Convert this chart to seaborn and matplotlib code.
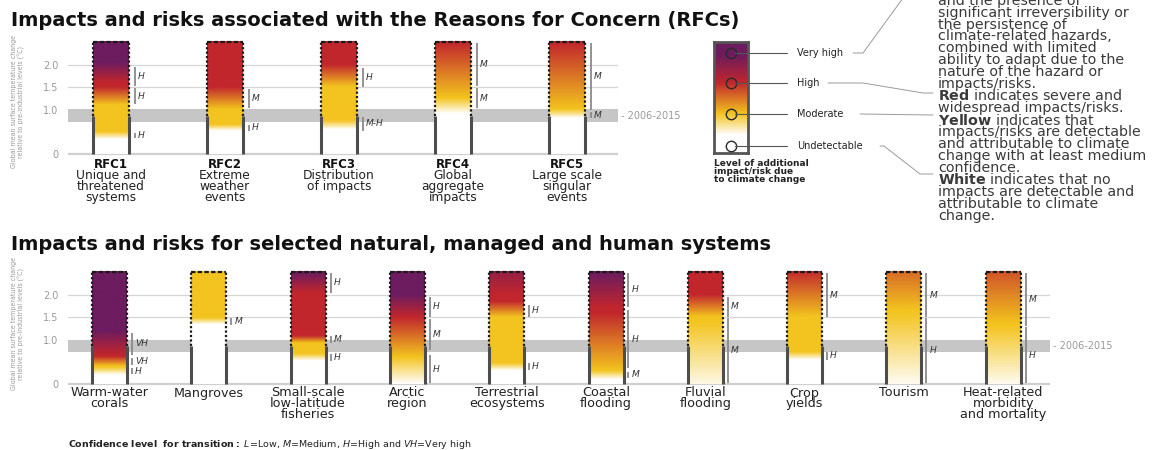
import numpy as np
import matplotlib
matplotlib.use("Agg")
import matplotlib.pyplot as plt
from matplotlib.lines import Line2D
from matplotlib.transforms import offset_copy, blended_transform_factory
import seaborn as sns

# ---------------- data ----------------
level_colors = ["#FFFFFF", "#F3C41F", "#C1262D", "#6C1C5F"]   # undetectable, moderate, high, very high
legend_labels = ["Undetectable", "Moderate", "High", "Very high"]
legend_circle_pos = [0.063, 0.35, 0.63, 0.90]
legend_stop_pos = [0.0, 0.16, 0.35, 0.63, 0.88, 1.0]
legend_stop_level = [0, 0, 1, 2, 3, 3]

present_band = (0.73, 1.0)        # 2006-2015 band (°C)
present_day = 0.85                # end of observed (solid) part of embers
ember_top = 2.52
y_ticks = [0, 1.0, 1.5, 2.0]
y_tick_labels = ["0", "1.0", "1.5", "2.0"]

rfc_codes = ["RFC1", "RFC2", "RFC3", "RFC4", "RFC5"]
rfc_desc = ["Unique and\nthreatened\nsystems", "Extreme\nweather\nevents",
            "Distribution\nof impacts", "Global\naggregate\nimpacts",
            "Large scale\nsingular\nevents"]
# each transition raises the risk level by one: (start °C, end °C)
rfc_transitions = [
    [(0.33, 0.5), (1.1, 1.5), (1.6, 2.05)],
    [(0.52, 0.66), (1.0, 1.5)],
    [(0.55, 0.75), (1.5, 2.0)],
    [(0.9, 1.25), (1.25, 2.5)],
    [(0.8, 1.0), (1.0, 2.5)],
]
rfc_confidence = [
    [(0.35, 0.48, "H"), (1.12, 1.48, "H"), (1.53, 1.95, "H")],
    [(0.52, 0.65, "H"), (1.03, 1.46, "M")],
    [(0.52, 0.83, "M-H"), (1.5, 1.94, "H")],
    [(1.03, 1.48, "M"), (1.53, 2.5, "M")],
    [(0.8, 0.94, "M"), (1.0, 2.5, "M")],
]

sys_names = ["Warm-water\ncorals", "Mangroves", "Small-scale\nlow-latitude\nfisheries",
             "Arctic\nregion", "Terrestrial\necosystems", "Coastal\nflooding",
             "Fluvial\nflooding", "Crop\nyields", "Tourism",
             "Heat-related\nmorbidity\nand mortality"]
sys_transitions = [
    [(0.2, 0.38), (0.4, 0.62), (0.65, 1.2)],
    [(1.33, 1.48)],
    [(0.52, 0.68), (0.92, 1.08), (2.04, 2.5)],
    [(0.0, 0.6), (0.6, 1.5), (1.5, 2.0)],
    [(0.3, 0.47), (1.5, 1.85), (2.0, 3.0)],
    [(0.1, 0.3), (0.3, 1.6), (1.7, 2.5)],
    [(-0.2, 1.4), (1.5, 2.0)],
    [(0.54, 0.72), (1.5, 2.55)],
    [(-0.1, 1.6), (1.65, 3.2)],
    [(-0.1, 1.3), (1.35, 3.0)],
]
sys_confidence = [
    [(0.22, 0.36, "H"), (0.43, 0.58, "VH"), (0.65, 1.15, "VH")],
    [(1.33, 1.48, "M")],
    [(0.52, 0.67, "H"), (0.92, 1.07, "M"), (2.04, 2.5, "H")],
    [(0.02, 0.65, "H"), (0.76, 1.46, "M"), (1.51, 1.96, "H")],
    [(0.31, 0.47, "H"), (1.51, 1.78, "H")],
    [(0.13, 0.28, "M"), (0.36, 1.66, "H"), (1.74, 2.49, "H")],
    [(0.02, 1.48, "M"), (1.51, 1.96, "M")],
    [(0.54, 0.73, "H"), (1.51, 2.49, "M")],
    [(0.02, 1.48, "H"), (1.51, 2.49, "M")],
    [(0.02, 1.28, "H"), (1.3, 2.49, "M")],
]

right_text = [
    "and the presence of",
    "significant irreversibility or",
    "the persistence of",
    "climate-related hazards,",
    "combined with limited",
    "ability to adapt due to the",
    "nature of the hazard or",
    "impacts/risks.",
    r"$\mathbf{Red}$ indicates severe and",
    "widespread impacts/risks.",
    r"$\mathbf{Yellow}$ indicates that",
    "impacts/risks are detectable",
    "and attributable to climate",
    "change with at least medium",
    "confidence.",
    r"$\mathbf{White}$ indicates that no",
    "impacts are detectable and",
    "attributable to climate",
    "change.",
]

title_top = "Impacts and risks associated with the Reasons for Concern (RFCs)"
title_bottom = "Impacts and risks for selected natural, managed and human systems"
y_label = "Global mean surface temperature change\nrelative to pre-industrial levels (°C)"
legend_title = "Level of additional\nimpact/risk due\nto climate change"
footer = (r"$\mathbf{Confidence\ level\ \ for\ transition:}$ $\mathit{L}$=Low, "
          r"$\mathit{M}$=Medium, $\mathit{H}$=High and $\mathit{VH}$=Very high")

# ---------------- style ----------------
sns.set_theme(style="white")
plt.rcParams['font.family'] = ['DejaVu Sans']
plt.rcParams['mathtext.fontset'] = 'dejavusans'
ember_cmap = sns.blend_palette(level_colors, as_cmap=True)

W, H = 1174, 450
fig = plt.figure(figsize=(W / 100, H / 100), dpi=100)
PX_PER_DEG = 44.5


def px_axes(l, t, r, b):
    return fig.add_axes([l / W, 1 - b / H, (r - l) / W, (b - t) / H])


def level_profile(t, transitions):
    lv = np.zeros_like(t)
    for a, b in transitions:
        lv = lv + np.clip((t - a) / (b - a), 0, 1)
    return lv


def make_panel(zero_px, right_px, first_center_px, spacing_px, n, names, transitions,
               confidence, width_frac, br_px, codes=None):
    ax = px_axes(68, zero_px - 2.65 * PX_PER_DEG, right_px, zero_px + 0.1 * PX_PER_DEG)
    ax.set_facecolor('none')
    ax.axhspan(*present_band, color='#c6c6c6', lw=0, zorder=1)
    for v in (1.5, 2.0):
        ax.axhline(v, color='#d6d6d6', lw=0.9, zorder=0.5)
    ax.axhline(0, color='#d0d0d0', lw=1.6, zorder=0.5)
    t = np.linspace(0, ember_top, 500)
    w = width_frac
    for i in range(n):
        x = i
        lv = level_profile(t, transitions[i])
        ax.imshow(lv[:, None] / 3.0, cmap=ember_cmap, vmin=0, vmax=1, origin='lower',
                  extent=(x - w / 2, x + w / 2, 0, ember_top), aspect='auto',
                  interpolation='bilinear', zorder=3)
        for xe in (x - w / 2, x + w / 2):
            ax.plot([xe, xe], [0, present_day], color='#4d4d4d', lw=2.2,
                    solid_capstyle='butt', zorder=4)
            ax.plot([xe, xe], [present_day, ember_top], color='#1a1a1a', lw=1.6,
                    ls=(0, (1, 1)), zorder=4)
        ax.plot([x - w / 2, x + w / 2], [ember_top, ember_top], color='#1a1a1a', lw=1.6,
                ls=(0, (2, 1)), zorder=4)
        xb = x + w / 2 + br_px / spacing_px
        for a, b, lab in confidence[i]:
            ax.plot([xb, xb], [a, b], color='#8a8a8a', lw=1.3, zorder=4,
                    solid_capstyle='butt')
            ax.text(xb + 3 / spacing_px, (a + b) / 2, lab, fontsize=6.5, style='italic',
                    color='#333', ha='left', va='center', zorder=5)
        if codes is not None:
            ax.text(x, -10.5 / PX_PER_DEG, codes[i], fontsize=8.5, fontweight='bold',
                    ha='center', va='center', color='#111', clip_on=False)
            ax.text(x, -15 / PX_PER_DEG, names[i], fontsize=8.8, ha='center', va='top',
                    color='#222', linespacing=0.78, clip_on=False)
        else:
            ax.text(x, -2.5 / PX_PER_DEG, names[i], fontsize=9.2, ha='center', va='top',
                    color='#222', linespacing=0.78, clip_on=False)
    ax.set_xlim((68 - first_center_px) / spacing_px, (right_px - first_center_px) / spacing_px)
    ax.set_ylim(-0.1, 2.65)
    ax.set_yticks(y_ticks, y_tick_labels)
    ax.set_xticks([])
    ax.tick_params(axis='y', length=0, pad=7, labelsize=7, labelcolor='#9a9a9a')
    sns.despine(ax=ax, left=True, bottom=True)
    tr = offset_copy(blended_transform_factory(ax.transAxes, ax.transData), fig=fig,
                     x=3, y=0, units='dots')
    ax.text(1.0, sum(present_band) / 2, "- 2006-2015", transform=tr, fontsize=7,
            color='#9a9a9a', ha='left', va='center', clip_on=False)
    return ax


ax_top = make_panel(154, 618, 111, 114, 5, rfc_desc, rfc_transitions, rfc_confidence,
                    36 / 114, 6, codes=rfc_codes)
ax_bot = make_panel(384, 1050, 109.5, 99.3, 10, sys_names, sys_transitions, sys_confidence,
                    35 / 99.3, 5)

# y-axis labels
for yc in (102, 324):
    fig.text(18 / W, 1 - yc / H, y_label, rotation=90, ha='center', va='center',
             fontsize=5, color='#999', linespacing=1.0,
             family=['Liberation Sans Narrow', 'DejaVu Sans'], fontstretch='condensed')

# titles
fig.text(11 / W, 1 - 20.5 / H, title_top, fontsize=14, fontweight='bold', va='center',
         ha='left', color='#111')
fig.text(11 / W, 1 - 245 / H, title_bottom, fontsize=14, fontweight='bold', va='center',
         ha='left', color='#111')
fig.text(68 / W, 1 - 444.5 / H, footer, fontsize=6.8, va='center', ha='left', color='#222')

# ---------------- legend ember ----------------
ax_leg = px_axes(714, 42, 748, 153)
pos = np.linspace(0, 1, 400)
lv = np.interp(pos, legend_stop_pos, legend_stop_level)
ax_leg.imshow(lv[:, None] / 3.0, cmap=ember_cmap, vmin=0, vmax=1, origin='lower',
              extent=(0, 1, 0, 1), aspect='auto', interpolation='bilinear')
ax_leg.set_xlim(0, 1)
ax_leg.set_ylim(0, 1)
ax_leg.set_xticks([])
ax_leg.set_yticks([])
for s in ax_leg.spines.values():
    s.set_visible(True)
    s.set_color('#555')
    s.set_linewidth(2)
for yp, lab in zip(legend_circle_pos, legend_labels):
    ax_leg.plot(0.5, yp, 'o', ms=7.5, mfc='none', mec='#2a2a2a', mew=1.0, clip_on=False,
                zorder=5)
    ax_leg.plot([0.5 + 3.8 / 34, (787 - 714) / 34], [yp, yp], color='#555', lw=0.8,
                clip_on=False, zorder=5)
    ax_leg.text((797 - 714) / 34, yp, lab, fontsize=7, ha='left', va='center',
                color='#222', clip_on=False)
fig.text(714 / W, 1 - 159 / H, legend_title, fontsize=6.5, fontweight='bold',
         ha='left', va='top', color='#222', linespacing=0.85)

# leader lines to the explanatory text
leaders = [
    [(853, 53), (863, 53), (906, -6)],
    [(828, 83), (863, 83), (923, 93), (933, 93)],
    [(860, 114), (933, 115)],
    [(880, 146), (884, 146), (920, 174), (933, 174)],
]
for pts in leaders:
    xs = [p[0] / W for p in pts]
    ys = [1 - p[1] / H for p in pts]
    fig.add_artist(Line2D(xs, ys, transform=fig.transFigure, color='#9a9a9a', lw=0.7))

fig.text(938 / W, 1 - (-6.0) / H, "\n".join(right_text), fontsize=10.3, ha='left',
         va='top', color='#3a3a3a', linespacing=0.80)

fig.savefig("out.png", dpi=100)
